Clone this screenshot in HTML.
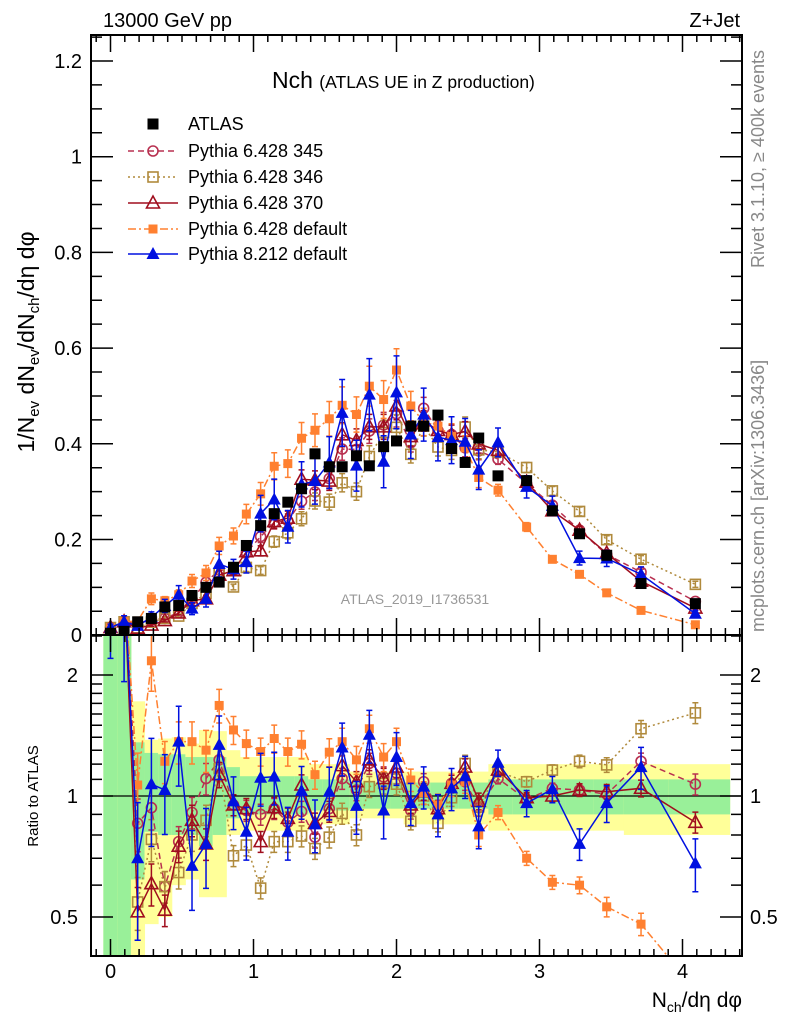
<!DOCTYPE html>
<html><head><meta charset="utf-8"><style>
html,body{margin:0;padding:0;background:#fff;}
svg{display:block;font-family:"Liberation Sans",sans-serif;}
</style></head><body>
<svg id="chart" width="786" height="1024" viewBox="0 0 786 1024" xmlns="http://www.w3.org/2000/svg">
<defs>
<clipPath id="clipMain"><rect x="91" y="35" width="651" height="600"/></clipPath>
<clipPath id="clipRatio"><rect x="91" y="635" width="651" height="321"/></clipPath>
</defs>
<g id="bands" clip-path="url(#clipRatio)"></g>
<g id="mainMarks" clip-path="url(#clipMain)"></g>
<g id="ratioMarks" clip-path="url(#clipRatio)"></g>
<g id="axes"></g>
<text x="103" y="27" font-size="20">13000 GeV pp</text>
<text x="740" y="27" font-size="20" text-anchor="end">Z+Jet</text>
<text x="272" y="88" font-size="23">Nch <tspan font-size="17.5">(ATLAS UE in Z production)</tspan></text>
<text x="415" y="604" font-size="14" fill="#999" text-anchor="middle">ATLAS_2019_I1736531</text>
<text transform="translate(764,268) rotate(-90)" font-size="18" fill="#888">Rivet 3.1.10, ≥ 400k events</text>
<text transform="translate(764,632) rotate(-90)" font-size="18" fill="#888">mcplots.cern.ch [arXiv:1306.3436]</text>
<text transform="translate(34,342) rotate(-90)" font-size="23" text-anchor="middle">1/N<tspan font-size="15" dy="5">ev</tspan><tspan dy="-5"> dN</tspan><tspan font-size="15" dy="5">ev</tspan><tspan dy="-5">/dN</tspan><tspan font-size="15" dy="5">ch</tspan><tspan dy="-5">/dη dφ</tspan></text>
<text transform="translate(38,796) rotate(-90)" font-size="15" text-anchor="middle">Ratio to ATLAS</text>
<text x="742" y="1007" font-size="21" text-anchor="end">N<tspan font-size="14" dy="5">ch</tspan><tspan dy="-5">/dη dφ</tspan></text>
<g id="legend"></g>
</svg>
<script>
const xVals=[0,0.095,0.19,0.286,0.38,0.477,0.57,0.668,0.76,0.86,0.95,1.05,1.145,1.24,1.336,1.43,1.53,1.62,1.72,1.81,1.91,2.0,2.1,2.19,2.29,2.385,2.48,2.575,2.71,2.91,3.09,3.28,3.47,3.71,4.09];
const atlasVals=[0.004,0.008,0.028,0.035,0.059,0.062,0.083,0.1,0.111,0.142,0.1875,0.229,0.254,0.278,0.306,0.379,0.352,0.352,0.375,0.354,0.394,0.406,0.437,0.437,0.46,0.39,0.361,0.412,0.333,0.323,0.26,0.212,0.167,0.108,0.066];
const ratio345=[4,3.5,0.855,0.935,0.595,0.77,0.91,1.105,1.23,0.95,0.92,0.9,0.93,0.86,0.915,0.79,0.93,1.105,1.035,1.205,1.115,1.14,0.92,1.085,0.93,1.075,1.085,0.935,1.105,0.98,1.045,1.035,1.01,1.22,1.07];
const ratio346=[4,3.5,0.545,0.78,0.595,0.645,0.8,0.87,1.17,0.71,0.755,0.59,0.77,0.77,0.795,0.74,0.79,0.905,0.8,1.055,1.075,1.07,0.865,1.0,0.855,0.99,1.205,0.94,1.15,1.085,1.16,1.22,1.195,1.47,1.61];
const ratio370=[4,3.5,0.515,0.605,0.52,0.75,0.87,0.76,1.13,0.95,0.93,0.77,0.935,0.88,1.065,0.855,0.915,1.19,1.085,1.23,1.105,1.18,0.95,1.025,0.93,1.075,1.18,0.97,1.16,0.99,1.0,1.035,1.025,1.045,0.86];
const ratioDef6=[4,3.5,1.065,2.17,1.22,1.365,1.365,1.3,1.68,1.46,1.35,1.29,1.39,1.29,1.345,1.13,1.285,1.365,1.23,1.47,1.25,1.365,1.096,1.02,0.95,1.065,1.085,0.8,0.91,0.7,0.61,0.6,0.53,0.48,0.33];
const ratioP8=[4,3.5,0.7,1.07,1.035,1.365,0.67,0.76,1.34,0.97,0.815,1.11,1.117,0.815,1.03,0.85,1.025,1.32,0.945,1.42,0.92,1.25,0.96,1.055,0.9,1.045,1.12,0.84,1.21,0.96,1.04,0.76,0.96,1.18,0.68];
const relErr=[0.3,0.3,0.25,0.2,0.15,0.15,0.15,0.15,0.12,0.1,0.1,0.1,0.1,0.1,0.1,0.1,0.1,0.1,0.1,0.1,0.1,0.1,0.08,0.08,0.08,0.08,0.08,0.08,0.05,0.05,0.05,0.06,0.07,0.08,0.1];
const yellowHi=[3,3,1.72,1.38,1.39,1.4,1.35,1.46,1.45,1.3,1.25,1.25,1.25,1.25,1.25,1.2,1.2,1.2,1.15,1.15,1.15,1.15,1.15,1.15,1.15,1.15,1.15,1.15,1.2,1.2,1.2,1.2,1.2,1.2,1.2];
const yellowLo=[0.3,0.3,0.3,0.48,0.5,0.6,0.62,0.56,0.56,0.8,0.82,0.82,0.82,0.82,0.82,0.85,0.85,0.85,0.88,0.88,0.88,0.88,0.85,0.85,0.85,0.85,0.85,0.85,0.82,0.82,0.82,0.82,0.82,0.8,0.8];
const greenHi=[3,3,1.36,1.28,1.27,1.27,1.25,1.25,1.25,1.18,1.12,1.12,1.12,1.12,1.12,1.1,1.1,1.1,1.08,1.08,1.08,1.08,1.08,1.08,1.08,1.08,1.08,1.08,1.1,1.1,1.1,1.1,1.1,1.1,1.1];
const greenLo=[0.3,0.3,0.62,0.815,0.8,0.8,0.8,0.75,0.8,0.88,0.9,0.9,0.9,0.9,0.9,0.92,0.92,0.92,0.93,0.93,0.93,0.93,0.93,0.93,0.93,0.93,0.93,0.93,0.9,0.9,0.9,0.9,0.9,0.9,0.9];
const yTicksMain=[0,0.2,0.4,0.6,0.8,1,1.2];
const yTickLabelsMain=["0","0.2","0.4","0.6","0.8","1","1.2"];
const xTicks=[0,1,2,3,4];
const ratioTicks=[0.5,1,2];
const ratioTickLabels=["0.5","1","2"];

const NS="http://www.w3.org/2000/svg";
const xS=v=>110.5+143*v;
const yM=v=>635.2-478.5*v;
const yR=r=>796-121*Math.log2(r);
function el(tag,attrs,parent){const e=document.createElementNS(NS,tag);for(const k in attrs)e.setAttribute(k,attrs[k]);parent.appendChild(e);return e;}
const axes=document.getElementById('axes'),bands=document.getElementById('bands'),mainG=document.getElementById('mainMarks'),ratioG=document.getElementById('ratioMarks'),legend=document.getElementById('legend');

const edges=[-0.05];
for(let i=0;i<xVals.length-1;i++)edges.push((xVals[i]+xVals[i+1])/2);
edges.push(4.33);
for(let i=0;i<xVals.length;i++){
  const x0=xS(edges[i]),x1=xS(edges[i+1]);
  const ry=el('rect',{x:x0,y:yR(yellowHi[i]),width:x1-x0+0.5,height:yR(yellowLo[i])-yR(yellowHi[i]),fill:'#ffff99'},bands);
  
  
  const rg=el('rect',{x:x0,y:yR(greenHi[i]),width:x1-x0+0.5,height:yR(greenLo[i])-yR(greenHi[i]),fill:'#99f099'},bands);
  
  
}
const one=el('line',{x1:91,x2:742,y1:yR(1),y2:yR(1),stroke:'#000','stroke-width':1.3},ratioG);



function marker(g,type,color,x,y){
  let m;
  if(type==='fsq')m=el('rect',{x:x-4.5,y:y-4.5,width:9,height:9,fill:color},g);
  else if(type==='bsq')m=el('rect',{x:x-5.5,y:y-5.5,width:11,height:11,fill:color},g);
  else if(type==='osq')m=el('rect',{x:x-5,y:y-5,width:10,height:10,fill:'none',stroke:color,'stroke-width':1.6},g);
  else if(type==='circ')m=el('circle',{cx:x,cy:y,r:5,fill:'none',stroke:color,'stroke-width':1.6},g);
  else if(type==='otri')m=el('polygon',{points:`${x},${y-7} ${x-6.5},${y+5} ${x+6.5},${y+5}`,fill:'none',stroke:color,'stroke-width':1.6},g);
  else m=el('polygon',{points:`${x},${y-7} ${x-6.5},${y+5} ${x+6.5},${y+5}`,fill:color},g);
  return m;
}
const series=[
 {name:'pythia6-345',ratio:ratio345,color:'#b83050',dash:'6,4',mk:'circ',ef:0.6},
 {name:'pythia6-346',ratio:ratio346,color:'#b08a3c',dash:'2,3',mk:'osq',ef:0.6},
 {name:'pythia6-370',ratio:ratio370,color:'#a00e1e',dash:'',mk:'otri',ef:0.6},
 {name:'pythia6-default',ratio:ratioDef6,color:'#ff8030',dash:'8,3,2,3',mk:'fsq',ef:0.8},
 {name:'pythia8-default',ratio:ratioP8,color:'#0010e0',dash:'',mk:'ftri',ef:1.5}
];
series.forEach(s=>{
  const gm=el('g',{},mainG);
  
  
  const gr=el('g',{},ratioG);
  
  
  const vals=s.ratio.map((r,i)=>r*atlasVals[i]);
  const pm=vals.map((v,i)=>xS(xVals[i])+','+yM(v)).join(' ');
  const pr=s.ratio.map((r,i)=>xS(xVals[i])+','+yR(r)).join(' ');
  const lm=el('polyline',{points:pm,fill:'none',stroke:s.color,'stroke-width':1.5,'stroke-dasharray':s.dash},gm);
  
  
  const lr=el('polyline',{points:pr,fill:'none',stroke:s.color,'stroke-width':1.5,'stroke-dasharray':s.dash},gr);
  
  
  vals.forEach((v,i)=>{
    const x=xS(xVals[i]),e=relErr[i]*s.ef;
    const eb=el('path',{d:`M${x},${yM(v*(1+e))}V${yM(v*(1-e))}M${x-3},${yM(v*(1+e))}h6M${x-3},${yM(v*(1-e))}h6`,stroke:s.color,'stroke-width':1.5,fill:'none'},gm);
    
    
    const m=marker(gm,s.mk,s.color,x,yM(v));
    
    
    const r=s.ratio[i];
    const eb2=el('path',{d:`M${x},${yR(r*(1+e))}V${yR(r*(1-e))}M${x-3},${yR(r*(1+e))}h6M${x-3},${yR(r*(1-e))}h6`,stroke:s.color,'stroke-width':1.5,fill:'none'},gr);
    
    
    const m2=marker(gr,s.mk,s.color,x,yR(r));
    
    
  });
});
atlasVals.forEach((v,i)=>{
  const m=marker(mainG,'bsq','#000',xS(xVals[i]),yM(v));
  
  
});

[[35,600],[635,321]].forEach(([y,h])=>{
  const f=el('rect',{x:91,y:y,width:651,height:h,fill:'none',stroke:'#000','stroke-width':2},axes);
  
  
});
let d='';
for(let k=0;k<=25;k++){const v=k*0.05,y=yM(v),L=(k%4===0)?22:11;if(y<35)continue;d+=`M91,${y}h${L}M742,${y}h${-L}`;}
for(let k=-1;k<=44;k++){const v=k*0.1,x=xS(v);if(x<92||x>741)continue;const L=(k%10===0)?17:7;
 d+=`M${x},35v${L}M${x},635v${-L}M${x},635v${L}M${x},956v${-L}`;}
const rMinor=[0.4,0.5,0.6,0.7,0.8,0.9,1,1.1,1.2,1.3,1.4,1.5,1.6,1.7,1.8,1.9,2,2.5];
rMinor.forEach(r=>{const y=yR(r);const L=(r===0.5||r===1||r===2)?22:11;d+=`M91,${y}h${L}M742,${y}h${-L}`;});
const tk=el('path',{d:d,stroke:'#000','stroke-width':1.5,fill:'none'},axes);


yTicksMain.forEach((v,i)=>{
  const t=el('text',{x:82,y:yM(v)+7,'font-size':20,'text-anchor':'end'},axes);
  t.textContent=yTickLabelsMain[i];
  
  
});
ratioTicks.forEach((r,i)=>{
  const t=el('text',{x:78,y:yR(r)+7,'font-size':20,'text-anchor':'end'},axes);
  t.textContent=ratioTickLabels[i];
  
  
  const t2=el('text',{x:750,y:yR(r)+7,'font-size':20},axes);
  t2.textContent=ratioTickLabels[i];
  
  
});
xTicks.forEach(v=>{
  const t=el('text',{x:xS(v),y:978,'font-size':20,'text-anchor':'middle'},axes);
  t.textContent=String(v);
  
  
});

const legItems=[
 {label:'ATLAS',mk:'bsq',color:'#000',dash:null},
 {label:'Pythia 6.428 345',mk:'circ',color:'#b83050',dash:'6,4'},
 {label:'Pythia 6.428 346',mk:'osq',color:'#b08a3c',dash:'2,3'},
 {label:'Pythia 6.428 370',mk:'otri',color:'#a00e1e',dash:''},
 {label:'Pythia 6.428 default',mk:'fsq',color:'#ff8030',dash:'8,3,2,3'},
 {label:'Pythia 8.212 default',mk:'ftri',color:'#0010e0',dash:''}
];
const legY=[124,151,177,203,229,254];
legItems.forEach((it,i)=>{
  const g=el('g',{},legend);
  
  
  const y=legY[i];
  if(it.dash!==null){el('line',{x1:128,x2:178,y1:y,y2:y,stroke:it.color,'stroke-width':1.5,'stroke-dasharray':it.dash},g);}
  marker(g,it.mk,it.color,153,y);
  const t=el('text',{x:188,y:y+6,'font-size':18},g);
  t.textContent=it.label;
});
</script>
</body></html>
